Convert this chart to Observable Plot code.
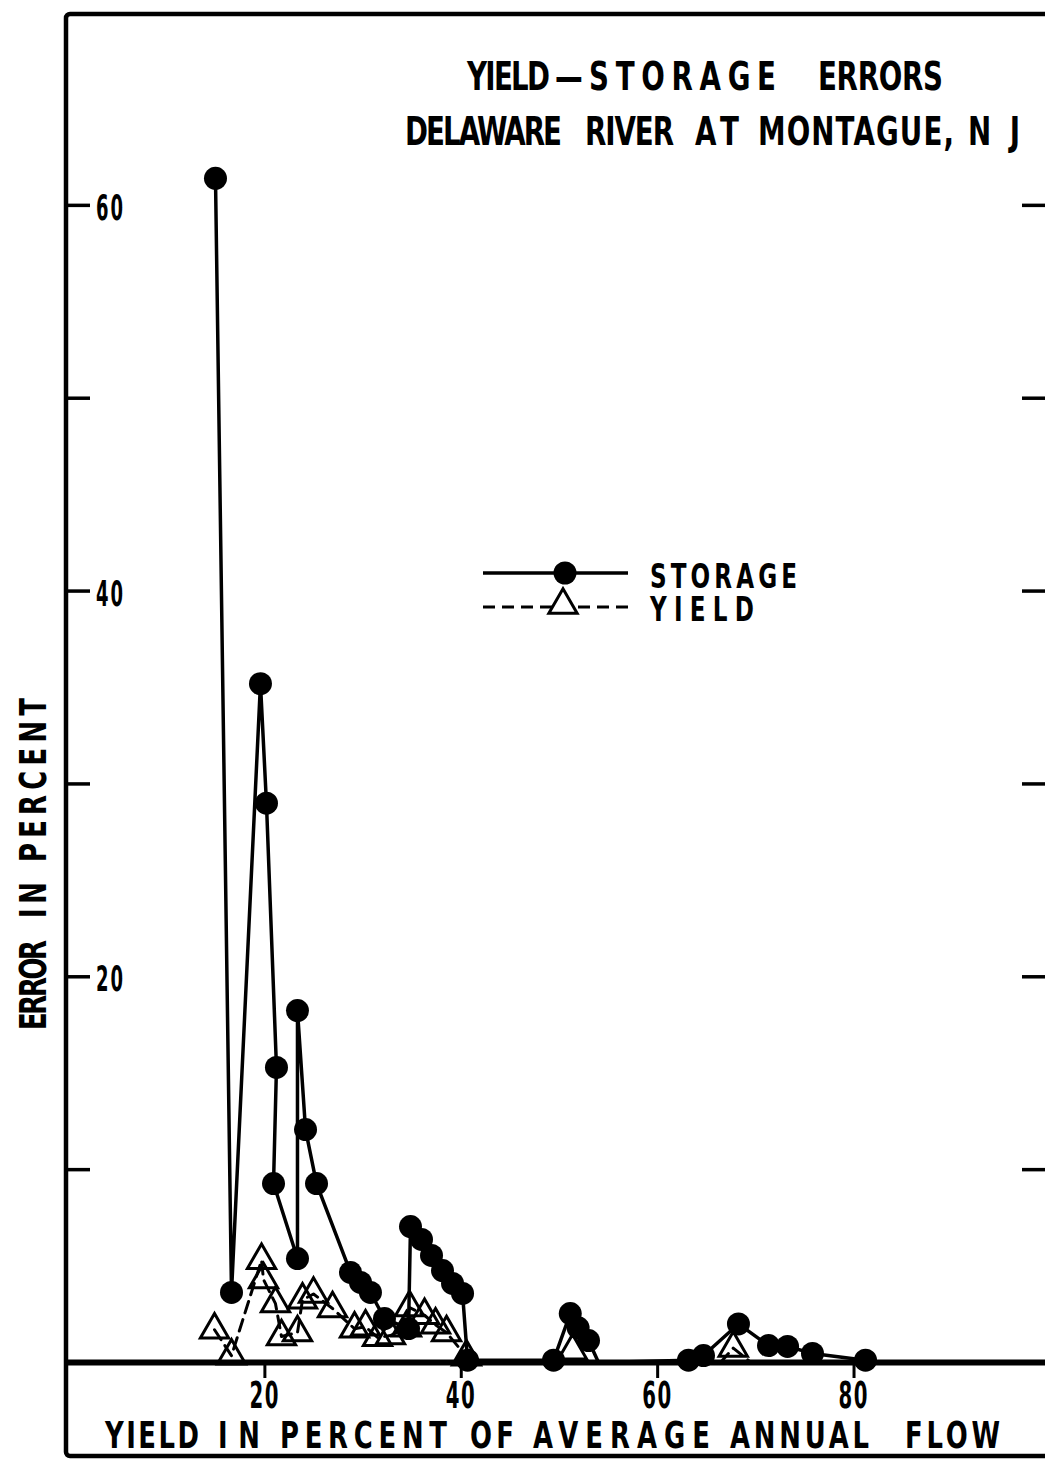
<!DOCTYPE html>
<html><head><meta charset="utf-8">
<script src="https://cdn.jsdelivr.net/npm/d3@7"></script>
<script src="https://cdn.jsdelivr.net/npm/@observablehq/plot@0.6"></script>
<style>body{margin:0;background:#fff} svg{display:block}</style>
</head><body><div id="chart"></div>
<script>
// Storage error (filled circles, solid line)
const storageX = [14.97,16.6,19.55,20.16,21.18,20.88,23.32,23.32,24.14,25.26,28.72,29.74,30.75,32.18,34.63,34.83,35.95,36.97,38.09,39.11,40.13,40.64,
                  49.4,51.1,51.9,52.96,53.98,
                  63.14,64.67,68.23,71.29,73.23,75.77,81.17];
const storageY = [61.4,3.63,35.2,29.0,15.3,9.28,5.39,18.25,12.08,9.28,4.67,4.15,3.63,2.28,1.76,7.05,6.38,5.55,4.77,4.1,3.58,0.12,
                  0.12,2.54,1.8,1.14,0,
                  0.12,0.36,2.0,0.88,0.83,0.47,0.12];
// Yield error (open triangles, dashed line)
const yieldX = [14.87,16.6,19.66,19.86,21.08,21.69,23.32,23.83,24.95,26.89,29.13,30.25,31.47,32.79,34.42,34.73,36.26,37.38,38.5,40.53,
                51.33,
                66.4,67.7,69.5];
const yieldY = [1.7,0.35,5.3,4.3,3.05,1.35,1.55,3.25,3.55,2.8,1.75,1.85,1.3,1.4,1.8,2.85,2.45,1.95,1.55,0.3,
                0.6,
                0,0.75,0];
const yieldGroup = [1,1,1,1,1,1,1,1,1,1,1,1,1,1,1,1,1,1,1,1, 2, 3,3,3];
const yTicks = [10,20,30,40,50,60];
const yTickLabels = [[20,"20"],[40,"40"],[60,"60"]];
const xTicks = [20,40,60,80];

const storage = storageX.map((x,i)=>({x, y: storageY[i]}));
const yld = yieldX.map((x,i)=>({x, y: yieldY[i], g: yieldGroup[i]}));

const W = 1045, H = 1460, mL = 68, mR = 0, mT = 12, mB = 98;
const innerW = W - mL - mR;
const TRI_R = 10.5;

const plot = Plot.plot({
  width: W, height: H,
  marginLeft: mL, marginRight: mR, marginTop: mT, marginBottom: mB,
  x: {domain: [0, 99.5], axis: null},
  y: {domain: [0, 70], axis: null},
  marks: [
    Plot.tickY(yTicks, {y: d=>d, insetRight: innerW - 22, strokeWidth: 3.5, stroke: "black"}),
    Plot.tickY(yTicks, {y: d=>d, insetLeft: innerW - 23, strokeWidth: 3.5, stroke: "black"}),
    Plot.axisX({ticks: xTicks, tickSize: 16, tickFormat: () => "", strokeWidth: 3, label: null}),
    Plot.line(yld, {x: "x", y: "y", z: "g", stroke: "black", strokeWidth: 3, strokeDasharray: "12,7"}),
    Plot.line(storage, {x: "x", y: "y", stroke: "black", strokeWidth: 3.5}),
    Plot.dot(storage, {filter: d => d.y > 0, x: "x", y: "y", r: 11.5, fill: "black", stroke: null}),
    Plot.dot(yld, {filter: d => d.y > 0, x: "x", y: "y", symbol: "triangle", r: TRI_R, fill: "none", stroke: "black", strokeWidth: 3}),
    Plot.ruleY([0], {strokeWidth: 6, stroke: "black"})
  ]
});
document.getElementById("chart").appendChild(plot);

const svg = d3.select(plot);
const sx = plot.scale("x"), sy = plot.scale("y");
const FONT = "DejaVu Sans, sans-serif";

// frame
svg.append("rect").attr("x", 66).attr("y", 14).attr("width", 1000).attr("height", 1442)
  .attr("rx", 4).attr("fill", "none").attr("stroke", "black").attr("stroke-width", 4.5);

function words(cx, cy, size, parts, rot = 0, SX = 0.72) {
  const t = svg.append("text")
    .attr("transform", `translate(${cx},${cy}) rotate(${rot}) scale(${SX},1)`)
    .attr("y", size * 0.365)
    .attr("font-family", FONT).attr("font-weight", "bold").attr("font-size", size)
    .attr("fill", "black").attr("text-anchor", "start");
  parts.forEach(([s, x0, x1]) => {
    if (s === " ") { t.append("tspan").text(" "); return; }
    const ts = t.append("tspan").attr("x", x0 / SX).text(s);
    if (x1 != null) ts.attr("textLength", (x1 - x0) / SX).attr("lengthAdjust", "spacing");
  });
  return t;
}

// titles
words(0, 76, 38.5, [["YIELD",467,550],["—",555],["STORAGE",589,776],[" "],["ERRORS",818,943]]);
words(0, 131, 38.5, [["DELAWARE",405,562],[" "],["RIVER",585,674],[" "],["AT",695,739],[" "],["MONTAGUE,",758,954],[" "],["NJ",968,1020]]);

// y tick labels
yTickLabels.forEach(([v, s]) => words(0, sy.apply(v) + 2, 36, [[s, 96, 123]], 0, 0.5));
// x tick labels
xTicks.forEach(v => { const c = sx.apply(v) - 1; words(0, 1394, 38, [[String(v), c - 14, c + 15]], 0, 0.52); });

// axis titles
words(0, 1434, 37, [["YIELD",105,199],[" "],["IN",218,260],[" "],["PERCENT",280,447],[" "],["OF",470,514],[" "],["AVERAGE",533,710],[" "],["ANNUAL",730,869],[" "],["FLOW",905,1000]], 0, 0.7);
words(32, 0, 37, [["ERROR",-1030,-940],[" "],["IN",-918,-882],[" "],["PERCENT",-862,-698]], -90, 0.7);

// legend
const lg = svg.append("g");
lg.append("line").attr("x1", 483).attr("x2", 628).attr("y1", 573).attr("y2", 573).attr("stroke", "black").attr("stroke-width", 3.5);
lg.append("circle").attr("cx", 565).attr("cy", 573).attr("r", 11.5).attr("fill", "black");
lg.append("line").attr("x1", 483).attr("x2", 628).attr("y1", 607).attr("y2", 607).attr("stroke", "black").attr("stroke-width", 3).attr("stroke-dasharray", "12,7");
lg.append("path").attr("d", d3.symbol(d3.symbolTriangle, TRI_R * TRI_R * Math.PI)()).attr("transform", "translate(563,605)")
  .attr("fill", "white").attr("stroke", "black").attr("stroke-width", 3);
words(0, 576, 33, [["STORAGE", 650, 797]], 0, 0.7);
words(0, 609, 33, [["YIELD", 650, 754]], 0, 0.7);
</script>
</body></html>
